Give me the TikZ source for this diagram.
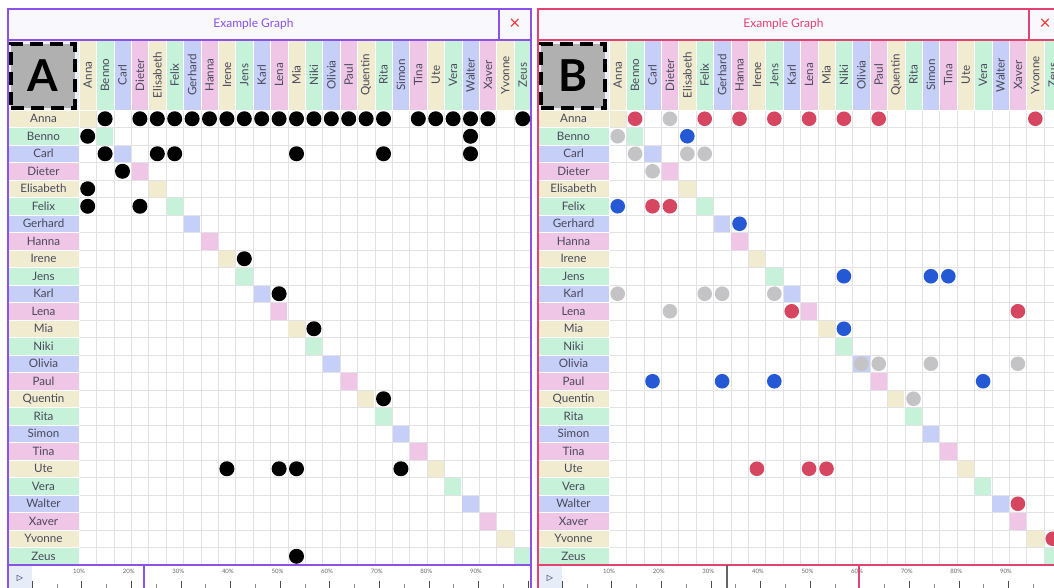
\documentclass[tikz,border=0pt]{standalone}
\usepackage{fontspec}
\setmainfont{Lato}
\newfontfamily\symfont{DejaVu Sans}
\usepackage{tikz}
\usetikzlibrary{positioning}
\definecolor{tint0}{RGB}{241,236,207}
\definecolor{tint1}{RGB}{198,242,218}
\definecolor{tint2}{RGB}{198,207,247}
\definecolor{tint3}{RGB}{240,198,230}
\definecolor{gridgray}{RGB}{226,226,228}
\definecolor{framepurple}{RGB}{138,82,232}
\definecolor{framepink}{RGB}{228,66,112}
\definecolor{closered}{RGB}{236,52,52}
\definecolor{dotred}{RGB}{214,70,96}
\definecolor{dotgray}{RGB}{196,196,198}
\definecolor{dotblue}{RGB}{36,88,212}
\definecolor{labelgray}{RGB}{72,72,90}
\definecolor{titlebg}{RGB}{248,248,253}
\definecolor{cornerbg}{RGB}{236,239,246}
\definecolor{playbg}{RGB}{230,236,248}

% one panel: shift, frame colour, letter, prefix
\newcommand\drawpanel[4]{%
\begin{scope}[shift={(#1,0)}]
  \fill[titlebg] (8,9) rectangle (531,40);
  \node[titletext, text=#2] (#4-title) at (253.5,24.5) {Example Graph};
  \node[closemark] (#4-close) at (515,24) {×};
  % corner with the letter
  \fill[cornerbg] (8,40) rectangle (79,110);
  \node[letterbox] (#4-letter) at (43,76) {#3};
  % header, row labels, diagonal
  \fill[white] (79,110) rectangle (531.4,565);
  \foreach \k in {0,...,26}{
    \draw[gridgray] (79+17.4*\k,110) -- (79+17.4*\k,565);
    \draw[gridgray] (79,110+17.5*\k) -- (531.4,110+17.5*\k);
  }
  \foreach \nm [count=\i from 0] in {Anna,Benno,Carl,Dieter,Elisabeth,Felix,Gerhard,Hanna,Irene,Jens,Karl,Lena,Mia,Niki,Olivia,Paul,Quentin,Rita,Simon,Tina,Ute,Vera,Walter,Xaver,Yvonne,Zeus}{
    \pgfmathtruncatemacro\t{mod(\i,4)}
    \fill[tint\t, draw=white] (79+17.4*\i,40) rectangle (96.4+17.4*\i,110);
    \node[collabel] (#4-col-\i) at (87.7+17.4*\i,75) {\nm};
    \fill[tint\t, draw=white] (8,110+17.5*\i) rectangle (79,127.5+17.5*\i);
    \node[rowlabel] (#4-row-\i) at (43.5,118.75+17.5*\i) {\nm};
    \fill[tint\t] (79.5+17.4*\i,110.5+17.5*\i) rectangle (95.9+17.4*\i,127+17.5*\i);
  }
  % timeline
  \fill[white] (8,565) rectangle (531,590);
  \fill[playbg] (8,565) rectangle (32,590);
  \node[playmark] (#4-play) at (20,578) {▷};
  \foreach \p in {1,...,9}
    \node[pct] (#4-pct-\p) at (29.5+49.6*\p,571.5) {\p0\%};
  \foreach \k in {0,...,10}
    \draw[black!70] (32+49.6*\k,581) -- (32+49.6*\k,590);
  \foreach \k in {0,...,9}
    \draw[black!45] (56.8+49.6*\k,584) -- (56.8+49.6*\k,590);
  % frame
  \draw[#2, line width=1.5] (8,595) -- (8,9) -- (531,9) -- (531,595);
  \draw[#2, line width=1.2] (8,40) -- (531,40);
  \draw[#2, line width=1.2] (499,9) -- (499,40);
  \draw[#2, line width=2] (8,565) -- (531,565);
\end{scope}}

\begin{document}
\begin{tikzpicture}[x=1pt, y=-1pt,
  titletext/.style={font=\fontsize{12}{14}\selectfont},
  closemark/.style={font=\fontsize{19}{19}\selectfont, text=closered, inner sep=0pt},
  letterbox/.style={draw=black, fill=black!31, line width=4.5pt, dash pattern=on 13pt off 7pt,
    minimum width=64pt, minimum height=64pt, inner sep=0pt,
    font=\fontsize{44}{44}\selectfont\bfseries},
  rowlabel/.style={font=\fontsize{11.6}{12}\selectfont, text=labelgray, inner sep=0pt},
  collabel/.style={rowlabel, rotate=90},
  pct/.style={font=\fontsize{6}{7}\selectfont, text=black!60, inner sep=0pt},
  playmark/.style={font=\symfont\fontsize{8}{8}\selectfont, text=black!75!blue, inner sep=0pt},
  dotA/.style={fill=black},
  dotred/.style={fill=dotred},
  dotgray/.style={fill=dotgray},
  dotblue/.style={fill=dotblue}
]
\useasboundingbox (0,0) rectangle (1054,587);
\clip (0,0) rectangle (1054,587);
\fill[white] (0,0) rectangle (1054,587);

\drawpanel{0}{framepurple}{A}{A}
\drawpanel{530}{framepink}{B}{B}

% dots of panel A (row/column)
\foreach \c in {1,3,4,5,6,7,8,9,10,11,12,13,14,15,16,17,19,20,21,22,23,25}
  \fill[dotA] (87.7+17.4*\c,118.75) circle [radius=7.5pt];
\foreach \r/\c in {1/0,1/22,2/1,2/4,2/5,2/12,2/17,2/22,3/2,4/0,5/0,5/3,8/9,10/11,12/13,16/17,20/8,20/11,20/12,20/18,25/12}
  \fill[dotA] (87.7+17.4*\c,118.75+17.5*\r) circle [radius=7.5pt];

% dots of panel B
\begin{scope}[shift={(530,0)}]
  \foreach \r/\c in {0/1,0/5,0/7,0/9,0/11,0/13,0/15,0/24,5/2,5/3,11/10,11/23,20/8,20/11,20/12,22/23,24/25}
    \fill[dotred] (87.7+17.4*\c,118.75+17.5*\r) circle [radius=7.3pt];
  \foreach \r/\c in {0/3,1/0,2/1,2/4,2/5,3/2,10/0,10/5,10/6,10/9,11/3,14/14,14/15,14/18,14/23,16/17}
    \fill[dotgray] (87.7+17.4*\c,118.75+17.5*\r) circle [radius=7.3pt];
  \foreach \r/\c in {1/4,5/0,6/7,9/13,9/18,9/19,12/13,15/2,15/6,15/9,15/21}
    \fill[dotblue] (87.7+17.4*\c,118.75+17.5*\r) circle [radius=7.3pt];
\end{scope}

% slider marks
\draw[framepurple, line width=2] (144,565) -- (144,590);
\draw[black!60, line width=1.2] (727,565) -- (727,590);
\draw[framepink, line width=2] (859,565) -- (859,590);
\end{tikzpicture}
\end{document}
